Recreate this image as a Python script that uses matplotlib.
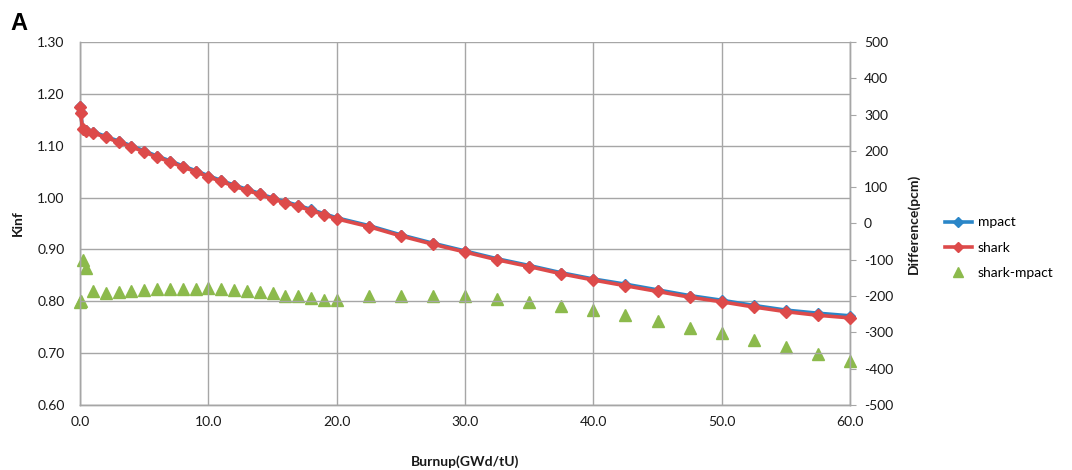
import matplotlib
matplotlib.use("Agg")
import matplotlib.pyplot as plt
from matplotlib.lines import Line2D

burnup = [0, 0.05, 0.2, 0.45, 1, 2, 3, 4, 5, 6, 7, 8, 9, 10, 11, 12, 13, 14, 15,
          16, 17, 18, 19, 20, 22.5, 25, 27.5, 30, 32.5, 35, 37.5, 40, 42.5, 45,
          47.5, 50, 52.5, 55, 57.5, 60]
mpact = [1.176, 1.165, 1.133, 1.130, 1.127, 1.118, 1.109, 1.100, 1.090, 1.080,
         1.071, 1.061, 1.052, 1.042, 1.033, 1.024, 1.016, 1.008, 0.999, 0.992,
         0.985, 0.977, 0.969, 0.961, 0.946, 0.928, 0.912, 0.897, 0.882, 0.869,
         0.855, 0.843, 0.833, 0.822, 0.811, 0.802, 0.792, 0.783, 0.777, 0.772]
shark = [1.174, 1.163, 1.132, 1.129, 1.125, 1.116, 1.107, 1.098, 1.088, 1.078,
         1.069, 1.059, 1.050, 1.040, 1.031, 1.022, 1.014, 1.006, 0.997, 0.990,
         0.983, 0.975, 0.967, 0.959, 0.944, 0.926, 0.910, 0.895, 0.880, 0.867,
         0.853, 0.841, 0.830, 0.819, 0.808, 0.799, 0.789, 0.780, 0.773, 0.768]
diff_pcm = [-215, -213, -100, -123, -185, -192, -189, -186, -183, -181, -181,
            -180, -180, -178, -181, -184, -186, -190, -192, -199, -201, -204,
            -211, -211, -201, -199, -199, -199, -208, -215, -227, -238, -252,
            -268, -287, -302, -321, -339, -359, -378]

x_ticks = [0, 10, 20, 30, 40, 50, 60]
left_ticks = [0.60, 0.70, 0.80, 0.90, 1.00, 1.10, 1.20, 1.30]
right_ticks = [-500, -400, -300, -200, -100, 0, 100, 200, 300, 400, 500]

FONT = "Lato"
plt.rcParams['font.family'] = [FONT, 'DejaVu Sans']

BLUE = '#2a86c8'
RED = '#dd4a4a'
GREEN = '#8cba4c'
GRID = '#a6a6a6'
TXT = '#1a1a1a'

fig = plt.figure(figsize=(10.72, 4.70), dpi=100)
ax = fig.add_axes([80 / 1072, 1 - 405 / 470, 770 / 1072, 363 / 470])
ax2 = ax.twinx()

ax.plot(burnup, mpact, color=BLUE, lw=2.6, marker='D', ms=5.5, zorder=3,
        label='mpact', clip_on=False)
ax.plot(burnup, shark, color=RED, lw=2.6, marker='D', ms=6.5, zorder=4,
        label='shark', clip_on=False)
ax2.plot(burnup, diff_pcm, ls='none', color=GREEN, marker='^', ms=8.5,
         label='shark-mpact', clip_on=False, zorder=5)

ax.set_xlim(0, 60)
ax.set_ylim(0.60, 1.30)
ax2.set_ylim(-500, 500)
ax.set_xticks(x_ticks)
ax.set_xticklabels([f"{v:.1f}" for v in x_ticks])
ax.set_yticks(left_ticks)
ax.set_yticklabels([f"{v:.2f}" for v in left_ticks])
ax2.set_yticks(right_ticks)
ax2.set_yticklabels([str(v) for v in right_ticks])

ax.grid(True, color=GRID, lw=1.0)
ax.set_axisbelow(True)
for a in (ax, ax2):
    for s in a.spines.values():
        s.set_color(GRID)
        s.set_linewidth(1.0)
    a.spines['top'].set_visible(False)
ax.tick_params(axis='both', length=0, labelsize=10, labelcolor=TXT, pad=11)
ax.tick_params(axis='x', pad=8)
ax2.tick_params(axis='y', length=4, color=GRID, labelsize=10, labelcolor=TXT, pad=6)

ax.set_xlabel('Burnup(GWd/tU)', fontsize=10, fontweight='bold', color=TXT)
ax.set_ylabel('Kinf', fontsize=10, fontweight='bold', color=TXT)
ax2.set_ylabel('Difference(pcm)', fontsize=10, fontweight='bold', color=TXT)
ax.xaxis.set_label_coords((465 - 80) / 770, (405 - 455) / 363)
ax.yaxis.set_label_coords((24 - 80) / 770, 0.5)
ax2.yaxis.set_label_coords((907 - 80) / 770, 0.5)

ax.set_zorder(ax2.get_zorder() + 1)
ax.patch.set_visible(False)

handles = [Line2D([], [], color=BLUE, lw=2.6, marker='D', ms=5),
           Line2D([], [], color=RED, lw=2.6, marker='D', ms=5),
           Line2D([], [], ls='none', color=GREEN, marker='^', ms=7)]
fig.legend(handles, ['mpact', 'shark', 'shark-mpact'], loc='upper left',
           bbox_to_anchor=(932 / 1072, 1 - 204 / 470), frameon=False,
           fontsize=10, handlelength=2.0, labelspacing=0.95, handletextpad=0.4)

fig.text(10 / 1072, 1 - 30 / 470, 'A', fontsize=17, fontweight='bold',
         family='Liberation Sans', color='black')

fig.savefig('out.png', dpi=100)
